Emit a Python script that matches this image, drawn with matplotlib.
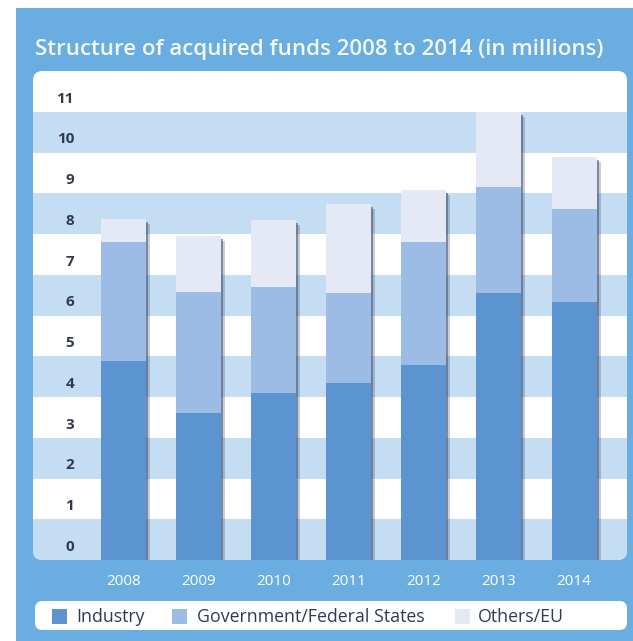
import matplotlib
matplotlib.use("Agg")
import matplotlib.pyplot as plt
import numpy as np
from matplotlib.patches import FancyBboxPatch, Rectangle
from matplotlib import transforms

# Funding structure per year (in millions)
years = ["2008", "2009", "2010", "2011", "2012", "2013", "2014"]
industry = [4.88, 3.60, 4.09, 4.35, 4.78, 6.55, 6.34]
government = [2.93, 2.98, 2.61, 2.20, 3.02, 2.60, 2.28]
others_eu = [0.56, 1.38, 1.65, 2.19, 1.27, 1.84, 1.27]
series_names = ["Industry", "Government/Federal States", "Others/EU"]
y_ticks = list(range(0, 12))

title = "Structure of acquired funds 2008 to 2014 (in millions)"

panel_blue = "#6aade1"
band_blue = "#c4ddf3"
colors = ["#5b94d0", "#9dbce5", "#e4e9f5"]
shadow_col = "#4a5b78"
label_dark = "#323a4e"
legend_text = "#2e3b58"

W, H = 633, 641
fig = plt.figure(figsize=(W / 100, H / 100), dpi=100)
fig.patch.set_facecolor("white")


def fx(px):
    return px / W


def fy(py):
    return 1 - py / H


# Outer blue panel
fig.patches.append(Rectangle((fx(16), 0), 1 - fx(16), fy(8), transform=fig.transFigure,
                             facecolor=panel_blue, edgecolor="none", zorder=-5))

# Title
fig.text(fx(35), fy(50), title, color="#f3f8fd", fontsize=16, fontweight="semibold",
         family="Open Sans", ha="left", va="center", zorder=5)

# Plot area
left, right, top, bottom = 33, 627, 71, 560
ax = fig.add_axes([fx(left), fy(bottom), fx(right - left), (bottom - top) / H])
ax.set_zorder(2)
ax.set_facecolor("none")
for s in ax.spines.values():
    s.set_visible(False)

n = len(years)
x = np.arange(n)
ax.set_xlim(-1.205, 6.705)
ax.set_ylim(0, 12)

# Rounded white background for the plot area
bg = FancyBboxPatch((0, 0), 1, 1, boxstyle="round,pad=0,rounding_size=0.016",
                    transform=ax.transAxes, facecolor="white", edgecolor="none",
                    zorder=0, mutation_aspect=594 / 489)
ax.add_patch(bg)

# Alternating horizontal bands, one per unit
for t in y_ticks:
    if t % 2 == 0:
        band = ax.axhspan(t, t + 1, facecolor=band_blue, edgecolor="none", zorder=0.5)
        band.set_clip_path(bg)

totals = np.array(industry) + np.array(government) + np.array(others_eu)
width = 0.6

# Soft drop shadow on the right side of each bar
for dx, dy, a in [(2, -3, 0.6), (4, -5, 0.3)]:
    off = transforms.offset_copy(ax.transData, fig=fig, x=dx, y=dy, units="dots")
    sh = ax.bar(x, totals, width=width, color=shadow_col, alpha=a, zorder=1,
                transform=off, linewidth=0)
    for p in sh:
        p.set_clip_path(bg)

bottoms = np.zeros(n)
for vals, col in zip([industry, government, others_eu], colors):
    bars = ax.bar(x, vals, width=width, bottom=bottoms, color=col, zorder=2, linewidth=0)
    for p in bars:
        p.set_clip_path(bg)
    bottoms = bottoms + np.array(vals)

# Y labels sit inside their band
ax.set_yticks([])
ylab_tr = transforms.blended_transform_factory(ax.transAxes, ax.transData)
for t in y_ticks:
    ax.text(41 / 594, t + 0.32, str(t), transform=ylab_tr, ha="right", va="center",
            fontsize=11, fontweight="bold", family="Open Sans", color=label_dark, zorder=3)

# Year labels below the plot area
ax.set_xticks(x)
ax.set_xticklabels(years, color="white", fontsize=11, family="Open Sans")
ax.tick_params(axis="x", length=0, pad=10)

# Legend box
fig.patches.append(FancyBboxPatch((fx(35), fy(630)), fx(627 - 35), (630 - 601) / H,
                                  boxstyle="round,pad=0,rounding_size=0.012",
                                  transform=fig.transFigure, facecolor="white",
                                  edgecolor="none", zorder=1, mutation_aspect=W / H))
legend_items = [(52, 76), (172, 197), (455, 478)]
for (sq, tx), name, col in zip(legend_items, series_names, colors):
    fig.patches.append(Rectangle((fx(sq), fy(624)), fx(15), 15 / H, transform=fig.transFigure,
                                 facecolor=col, edgecolor="none", zorder=2))
    fig.text(fx(tx), fy(616.5), name, color=legend_text, fontsize=12.8, family="Open Sans",
             ha="left", va="center", zorder=3)

fig.savefig("out.png", dpi=100)
